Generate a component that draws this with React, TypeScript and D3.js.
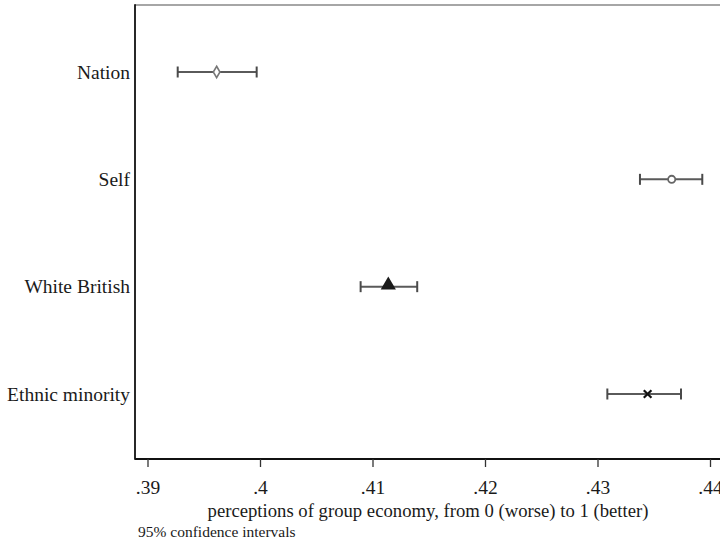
import React from 'react';
import * as d3 from 'd3';

// estimates
const groups = ['Nation', 'Self', 'White British', 'Ethnic minority'];
const means = [0.3961, 0.43655, 0.41136, 0.43441];
const lower = [0.39264, 0.43373, 0.4089, 0.43083];
const upper = [0.39966, 0.43927, 0.41393, 0.43738];
const markers = ['diamond', 'circle', 'triangle', 'cross'];
const xTicks = [0.39, 0.4, 0.41, 0.42, 0.43, 0.44];
const xTitle = 'perceptions of group economy, from 0 (worse) to 1 (better)';
const note = '95% confidence intervals';

const W = 720;
const H = 540;
const frame = { left: 135, top: 5, bottom: 459 };
const font = '"Liberation Serif", "Times New Roman", serif';
const textColor = '#1a1a1a';

const x = d3.scaleLinear().domain([0.39, 0.44]).range([148, 710.5]);
const y = d3.scalePoint<string>().domain(groups).range([72, 394]);

const fmt = (v: number) => d3.format('.2~f')(v).replace(/^0/, '');

function Marker({ kind, cx, cy }: { kind: string; cx: number; cy: number }) {
  if (kind === 'diamond') {
    const s = d3.symbol(d3.symbolDiamond, 38)();
    return <path d={s || ''} transform={`translate(${cx},${cy})`} fill="#fff" stroke="#777" strokeWidth={1.6} />;
  }
  if (kind === 'circle') {
    return <circle cx={cx} cy={cy} r={3.6} fill="#fff" stroke="#666" strokeWidth={1.8} />;
  }
  if (kind === 'triangle') {
    const s = d3.symbol(d3.symbolTriangle, 100)();
    return <path d={s || ''} transform={`translate(${cx},${cy - 1.5})`} fill="#1a1a1a" />;
  }
  const s = d3.symbol(d3.symbolX, 40)();
  return <path d={s || ''} transform={`translate(${cx},${cy})`} fill="none" stroke="#111" strokeWidth={2.2} />;
}

export default function App() {
  return (
    <svg width={W} height={H} style={{ position: 'absolute', left: 0, top: 0, background: '#fff' }}>
      <rect width={W} height={H} fill="#fff" />
      {/* frame */}
      <line x1={frame.left} x2={W} y1={frame.top} y2={frame.top} stroke="#888" strokeWidth={1.5} />
      <line x1={frame.left} x2={frame.left} y1={frame.top - 0.75} y2={frame.bottom + 0.75} stroke="#111" strokeWidth={1.8} />
      <line x1={frame.left} x2={W} y1={frame.bottom} y2={frame.bottom} stroke="#111" strokeWidth={1.8} />

      {/* x axis */}
      {xTicks.map((t) => (
        <g key={t}>
          <line x1={x(t)} x2={x(t)} y1={frame.bottom} y2={frame.bottom + 8} stroke="#333" strokeWidth={1.3} />
          <text x={x(t)} y={494} textAnchor="middle" fontFamily={font} fontSize={19.5} fill={textColor}>
            {fmt(t)}
          </text>
        </g>
      ))}
      <text x={428} y={517} textAnchor="middle" fontFamily={font} fontSize={18.7} fill={textColor}>
        {xTitle}
      </text>
      <text x={138} y={537} fontFamily={font} fontSize={15.5} fill={textColor}>
        {note}
      </text>

      {/* groups */}
      {groups.map((g, i) => {
        const cy = y(g) as number;
        return (
          <g key={g}>
            <text x={130} y={cy + 6.5} textAnchor="end" fontFamily={font} fontSize={19.5} fill={textColor}>
              {g}
            </text>
            <line x1={x(lower[i])} x2={x(upper[i])} y1={cy} y2={cy} stroke="#5a5a5a" strokeWidth={2} />
            <line x1={x(lower[i])} x2={x(lower[i])} y1={cy - 5.5} y2={cy + 5.5} stroke="#4a4a4a" strokeWidth={2} />
            <line x1={x(upper[i])} x2={x(upper[i])} y1={cy - 5.5} y2={cy + 5.5} stroke="#4a4a4a" strokeWidth={2} />
            <Marker kind={markers[i]} cx={x(means[i])} cy={cy} />
          </g>
        );
      })}
    </svg>
  );
}
